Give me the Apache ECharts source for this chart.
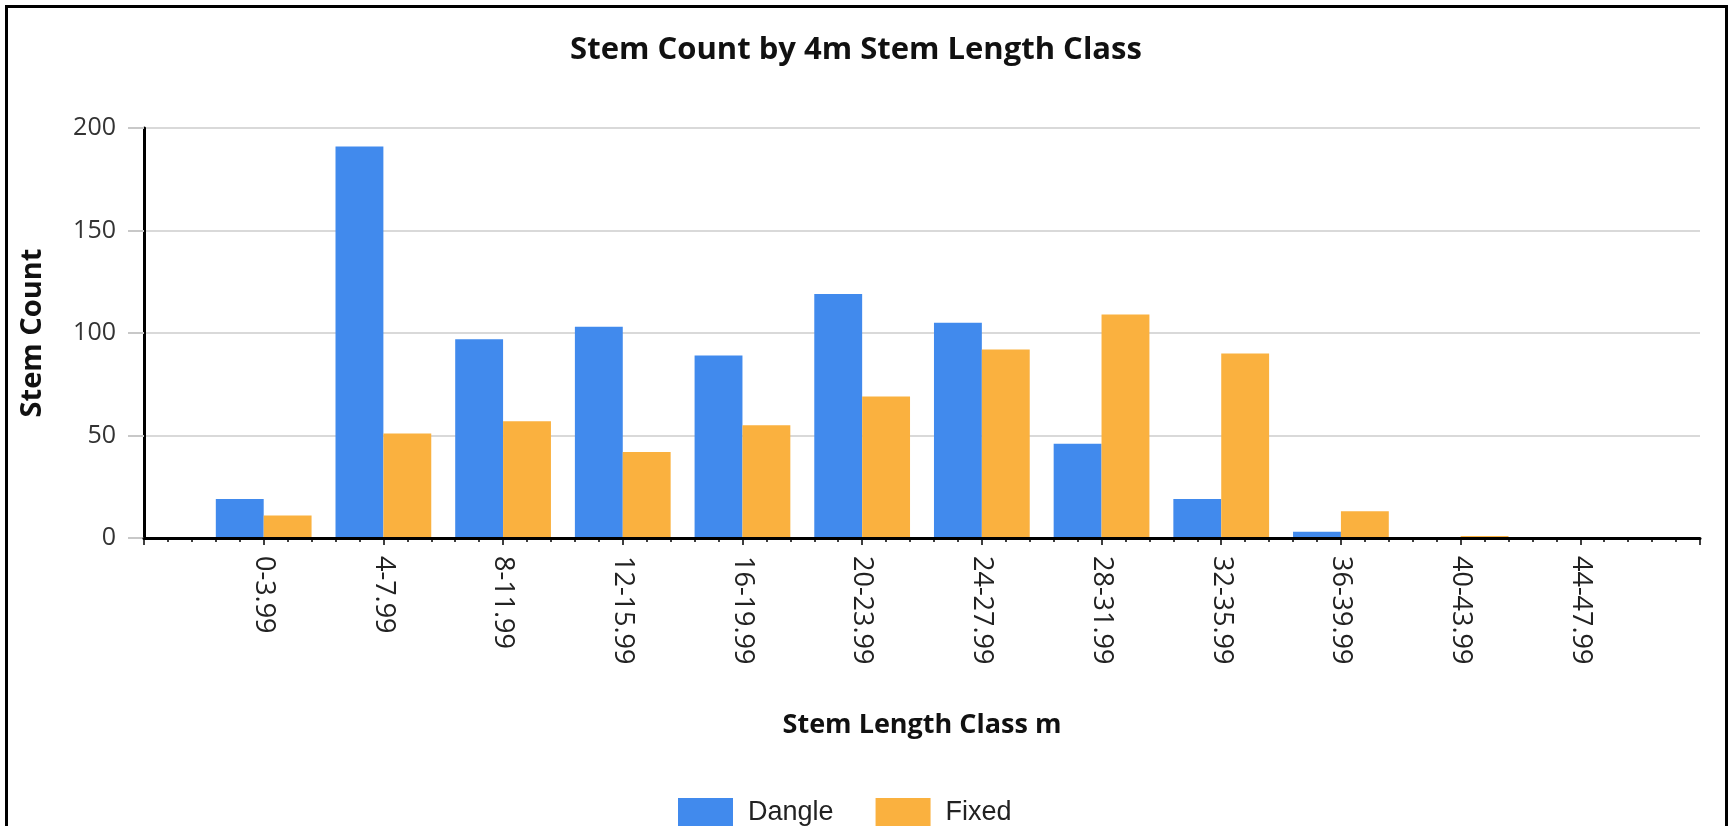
<!DOCTYPE html>
<html>
<head>
<meta charset="utf-8">
<title>Stem Count by 4m Stem Length Class</title>
<script src="https://cdn.jsdelivr.net/npm/echarts@6/dist/echarts.min.js"></script>
<style>
  html, body { margin: 0; padding: 0; background: #fff; }
  #stemChart { width: 1731px; height: 826px; }
</style>
</head>
<body>
<div id="stemChart"></div>
<script>
// values
const lengthClasses = ["0-3.99", "4-7.99", "8-11.99", "12-15.99", "16-19.99", "20-23.99",
  "24-27.99", "28-31.99", "32-35.99", "36-39.99", "40-43.99", "44-47.99"];
const dangleCounts = [19, 191, 97, 103, 89, 119, 105, 46, 19, 3, 0, 0];
const fixedCounts = [11, 51, 57, 42, 55, 69, 92, 109, 90, 13, 1, 0];
const seriesNames = ["Dangle", "Fixed"];
const countMin = 0;
const countMax = 200;
const countStep = 50;

const labelFont = "'Open Sans', sans-serif";

// each class sits on a whole-number slot of the x axis, one empty slot each side
const toPoints = (counts) => counts.map((c, i) => [i + 1, c]);

const chart = echarts.init(document.getElementById("stemChart"));

const option = {
  animation: false,
  backgroundColor: "#fff",
  title: {
    text: "Stem Count by 4m Stem Length Class",
    left: 851,
    textAlign: "center",
    top: 30,
    textStyle: {
      fontFamily: labelFont,
      fontWeight: "bold",
      fontSize: 31,
      color: "#111",
    },
  },
  legend: {
    data: seriesNames,
    icon: "rect",
    left: 673,
    top: 793,
    itemWidth: 55,
    itemHeight: 30,
    itemGap: 42,
    textStyle: {
      fontFamily: "'Liberation Sans', Arial, sans-serif",
      fontSize: 27,
      color: "#222",
      padding: [0, 0, 0, 10],
    },
  },
  grid: {
    left: 144,
    right: 31,
    top: 128,
    bottom: 288,
    containLabel: false,
    outerBoundsMode: "none",
  },
  xAxis: {
    type: "value",
    min: 0,
    max: lengthClasses.length + 1,
    interval: 1,
    z: 5,
    name: "Stem Length Class m",
    nameLocation: "middle",
    nameGap: 174,
    nameTextStyle: {
      fontFamily: labelFont,
      fontWeight: "bold",
      fontSize: 27,
      color: "#111",
    },
    axisLine: { lineStyle: { color: "#000", width: 3 } },
    axisTick: { length: 7, lineStyle: { color: "#000", width: 1.5 } },
    minorTick: { show: true, splitNumber: 5, length: 4, lineStyle: { color: "#000", width: 1.5 } },
    splitLine: { show: false },
    minorSplitLine: { show: false },
    axisLabel: {
      rotate: -90,
      margin: 18,
      fontFamily: labelFont,
      fontSize: 27,
      color: "#222",
      showMinLabel: true,
      showMaxLabel: true,
      formatter: (v) => lengthClasses[v - 1] || "",
    },
  },
  yAxis: {
    type: "value",
    min: countMin,
    max: countMax,
    interval: countStep,
    name: "Stem Count",
    nameLocation: "middle",
    nameRotate: 90,
    nameGap: 97,
    nameTextStyle: {
      fontFamily: labelFont,
      fontWeight: "bold",
      fontSize: 29,
      color: "#111",
    },
    axisLine: { show: true, lineStyle: { color: "#000", width: 3 } },
    axisTick: { show: true, length: 16, lineStyle: { color: "#c8c8c8", width: 2 } },
    axisLabel: {
      margin: 28,
      fontFamily: labelFont,
      fontSize: 25,
      color: "#333",
    },
    splitLine: { lineStyle: { color: "#d9d9d9", width: 2 } },
  },
  series: [
    {
      name: seriesNames[0],
      type: "bar",
      data: toPoints(dangleCounts),
      itemStyle: { color: "#418AED" },
      barGap: "0%",
      barCategoryGap: "20%",
    },
    {
      name: seriesNames[1],
      type: "bar",
      data: toPoints(fixedCounts),
      itemStyle: { color: "#FAB13F" },
      barGap: "0%",
      barCategoryGap: "20%",
    },
  ],
  graphic: [
    {
      type: "rect",
      silent: true,
      shape: { x: 6.5, y: 6.5, width: 1720, height: 1000 },
      style: { fill: "none", stroke: "#000", lineWidth: 3 },
    },
  ],
};

chart.setOption(option);

window.addEventListener("resize", () => {
  chart.resize();
});
</script>
</body>
</html>
